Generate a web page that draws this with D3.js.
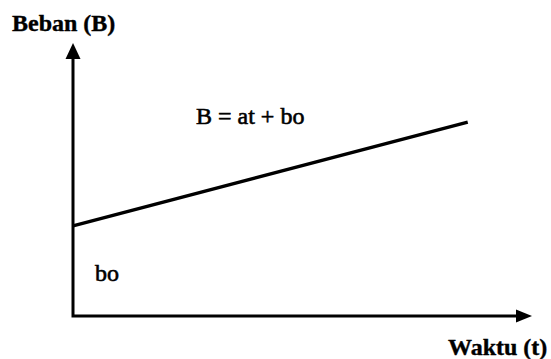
<!DOCTYPE html>
<html>
<head>
<meta charset="utf-8">
<script src="https://cdn.jsdelivr.net/npm/d3@7"></script>
<style>
  html, body { margin: 0; padding: 0; background: #fff; }
  svg { display: block; }
</style>
</head>
<body>
<div id="chart-container"></div>
<script>
// B = at + bo : beban naik linear terhadap waktu

const tValues = [0, 8.6];        // waktu (t)
const bebanValues = [3.3, 7.1];  // beban (B)
const axisMax = { t: 10, B: 10 };

const svgWidth = 551;
const svgHeight = 359;
const serif = "'Liberation Serif', 'Times New Roman', serif";

const svg = d3.select("#chart-container")
    .append("svg")
    .attr("width", svgWidth)
    .attr("height", svgHeight);

const scaleX = d3.scaleLinear().domain([0, axisMax.t]).range([73, 532]);
const scaleY = d3.scaleLinear().domain([0, axisMax.B]).range([316, 43]);

const x0 = scaleX(0), y0 = scaleY(0);
const xEnd = scaleX(axisMax.t), yEnd = scaleY(axisMax.B);

// axes
svg.append("path")
    .attr("d", `M${x0},${yEnd + 14}L${x0},${y0}L${xEnd - 14},${y0}`)
    .attr("fill", "none")
    .attr("stroke", "#000")
    .attr("stroke-width", 3);

// arrow heads
svg.append("path")
    .attr("d", `M${x0},${yEnd}L${x0 - 7.5},${yEnd + 16}L${x0 + 7.5},${yEnd + 16}Z`)
    .attr("fill", "#000");
svg.append("path")
    .attr("d", `M${xEnd},${y0}L${xEnd - 16},${y0 - 6.5}L${xEnd - 16},${y0 + 6.5}Z`)
    .attr("fill", "#000");

// load line
const line = d3.line()
    .x((d, i) => scaleX(tValues[i]))
    .y(d => scaleY(d));

svg.append("path")
    .datum(bebanValues)
    .attr("d", line)
    .attr("fill", "none")
    .attr("stroke", "#000")
    .attr("stroke-width", 3.4);

// labels (slight stroke = heavier scanned look)
function label(x, y, txt, bold) {
    svg.append("text")
        .attr("x", x).attr("y", y)
        .attr("font-family", serif)
        .attr("font-size", 24)
        .attr("font-weight", bold ? "bold" : "normal")
        .attr("fill", "#000")
        .attr("stroke", "#000")
        .attr("stroke-width", bold ? 0.4 : 0.6)
        .text(txt);
}

label(12, 31, "Beban (B)", true);
label(448, 355, "Waktu (t)", true);
label(196, 124, "B = at + bo", false);
label(95, 281, "bo", false);
</script>
</body>
</html>
